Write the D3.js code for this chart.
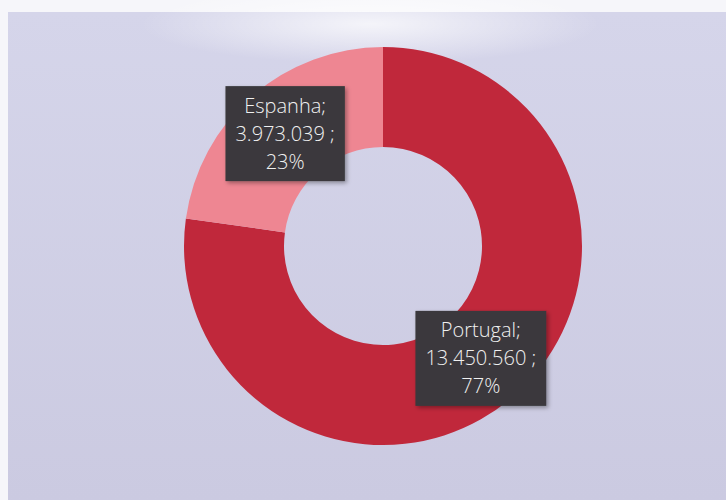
<!DOCTYPE html>
<html><head><meta charset="utf-8">
<script src="https://cdn.jsdelivr.net/npm/d3@7"></script>
<style>html,body{margin:0;padding:0;background:#fff;}svg{display:block;}</style>
</head><body>
<svg id="chart" width="726" height="500"></svg>
<script>
const categories = ["Portugal", "Espanha"];
const values = [13450560, 3973039];
const colors = ["#c0283b", "#ee8692"];

const W = 726, H = 500;
const svg = d3.select("#chart");
const defs = svg.append("defs");

const bg = defs.append("linearGradient").attr("id","bg").attr("x1",0).attr("y1",0).attr("x2",0).attr("y2",1);
bg.append("stop").attr("offset","0%").attr("stop-color","#d5d5ea");
bg.append("stop").attr("offset","100%").attr("stop-color","#cbcae1");
const glare = defs.append("radialGradient").attr("id","glare");
glare.append("stop").attr("offset","0%").attr("stop-color","#ffffff").attr("stop-opacity",0.75);
glare.append("stop").attr("offset","100%").attr("stop-color","#ffffff").attr("stop-opacity",0);
const sh = defs.append("filter").attr("id","shadow").attr("x","-20%").attr("y","-20%").attr("width","150%").attr("height","150%");
sh.append("feDropShadow").attr("dx",2).attr("dy",2).attr("stdDeviation",2).attr("flood-color","#000").attr("flood-opacity",0.35);

svg.append("rect").attr("x",0).attr("y",0).attr("width",W).attr("height",H).attr("fill","#f6f6fa");
svg.append("rect").attr("x",8).attr("y",12).attr("width",W-8).attr("height",H-12).attr("fill","url(#bg)");
svg.append("ellipse").attr("cx",370).attr("cy",24).attr("rx",230).attr("ry",40).attr("fill","url(#glare)");

const cx = 383, cy = 246, rOuter = 199, rInner = 99;
const total = d3.sum(values);
const data = categories.map((c,i)=>({name:c, value:values[i], color:colors[i]}));
const pie = d3.pie().sort(null).value(d=>d.value);
const arc = d3.arc().innerRadius(rInner).outerRadius(rOuter);
const g = svg.append("g").attr("transform",`translate(${cx},${cy})`);
const arcs = pie(data);
g.selectAll("path").data(arcs).join("path").attr("d",arc).attr("fill",d=>d.data.color);

const loc = d3.formatLocale({decimal:",", thousands:".", grouping:[3], currency:["",""]});
const fmt = loc.format(",d");
const font = "'Open Sans', sans-serif";

arcs.forEach(a=>{
  const [x,y] = arc.centroid(a);
  const lines = [a.data.name + ";", fmt(a.data.value) + " ;", Math.round(a.data.value/total*100) + "%"];
  const lg = g.append("g").attr("transform",`translate(${x},${y})`);
  const box = lg.append("rect").attr("fill","#3a393c").attr("filter","url(#shadow)");
  const t = lg.append("text").attr("text-anchor","middle").attr("fill","#f0f0f0")
    .style("font-family",font).style("font-size","20px").style("font-weight",300);
  lines.forEach((l,i)=>t.append("tspan").attr("x",0).attr("y",(i-1)*28).attr("dy","0.35em").text(l));
  const bb = t.node().getBBox();
  const padX = 10, boxH = 95;
  box.attr("x",bb.x-padX).attr("y",-boxH/2).attr("width",bb.width+2*padX).attr("height",boxH);
});
</script>
</body></html>
